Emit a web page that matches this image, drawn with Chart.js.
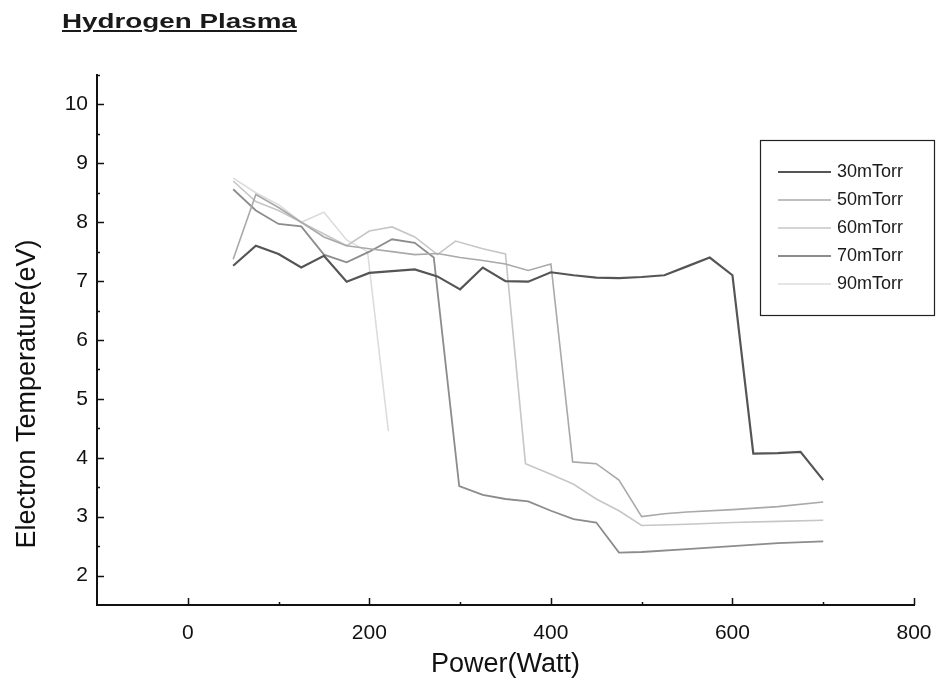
<!DOCTYPE html>
<html>
<head>
<meta charset="utf-8">
<title>Hydrogen Plasma</title>
<script src="https://cdn.jsdelivr.net/npm/chart.js@4.4.0/dist/chart.umd.min.js"></script>
<style>
  html, body { margin: 0; padding: 0; background: #fff; }
  #wrap { position: relative; width: 937px; height: 689px; }
  #chart { position: absolute; left: 0; top: 0; }
  #title {
    position: absolute; left: 62px; top: 10px;
    font: bold 20px "Liberation Sans", Arial, sans-serif;
    color: #1a1a1a; white-space: nowrap;
    text-decoration: underline; text-decoration-thickness: 2px; text-underline-offset: 2px;
    transform: scaleX(1.39); transform-origin: left top;
  }
</style>
</head>
<body>
<div id="wrap">
  <canvas id="chart" width="937" height="689"></canvas>
  <div id="title">Hydrogen Plasma</div>
</div>
<script>
var seriesLabels = ['30mTorr', '50mTorr', '60mTorr', '70mTorr', '90mTorr'];

var power30 = [50, 75, 100, 125, 150, 175, 200, 225, 250, 275, 300, 325, 350, 375, 400, 425, 450, 475, 500, 525, 550, 575, 600, 623, 650, 675, 700];
var temp30  = [7.26, 7.6, 7.46, 7.23, 7.43, 6.99, 7.14, 7.17, 7.2, 7.08, 6.86, 7.23, 7.0, 6.99, 7.15, 7.1, 7.06, 7.05, 7.07, 7.1, 7.25, 7.4, 7.1, 4.07, 4.08, 4.1, 3.62];

var power50 = [50, 75, 100, 125, 150, 175, 200, 225, 250, 275, 300, 325, 350, 375, 400, 424, 450, 475, 500, 525, 550, 600, 650, 700];
var temp50  = [7.37, 8.47, 8.25, 8.0, 7.75, 7.6, 7.55, 7.5, 7.45, 7.47, 7.4, 7.35, 7.29, 7.18, 7.29, 3.93, 3.9, 3.62, 3.0, 3.05, 3.08, 3.12, 3.17, 3.25];

var power60 = [50, 75, 100, 125, 150, 175, 200, 225, 250, 275, 295, 325, 350, 372, 400, 425, 450, 475, 500, 550, 600, 650, 700];
var temp60  = [8.7, 8.35, 8.2, 8.0, 7.8, 7.6, 7.85, 7.92, 7.75, 7.45, 7.68, 7.55, 7.46, 3.9, 3.72, 3.55, 3.3, 3.1, 2.85, 2.87, 2.9, 2.92, 2.94];

var power70 = [50, 75, 100, 125, 150, 175, 200, 225, 250, 271, 299, 325, 350, 375, 400, 425, 450, 475, 500, 550, 600, 650, 700];
var temp70  = [8.56, 8.2, 7.97, 7.93, 7.45, 7.32, 7.5, 7.71, 7.65, 7.4, 3.52, 3.37, 3.3, 3.26, 3.1, 2.96, 2.9, 2.39, 2.4, 2.45, 2.5, 2.55, 2.58];

var power90 = [50, 75, 100, 125, 150, 175, 198, 221];
var temp90  = [8.75, 8.5, 8.3, 8.0, 8.17, 7.7, 7.5, 4.45];

var xTicks = [0, 200, 400, 600, 800];
var yTicks = [2, 3, 4, 5, 6, 7, 8, 9, 10];

var lineColors = ['#555555', '#a9a9a9', '#c6c6c6', '#8c8c8c', '#dcdcdc'];
var lineWidths = [2.2, 1.6, 1.6, 1.8, 1.6];

function points(xs, ys) {
  return xs.map(function(x, i) { return { x: x, y: ys[i] }; });
}

var allPoints = [
  points(power30, temp30),
  points(power50, temp50),
  points(power60, temp60),
  points(power70, temp70),
  points(power90, temp90)
];

var FONT = '"Liberation Sans", Arial, sans-serif';

// small inward tick marks on both axes, majors plus halfway minors
var innerTicks = {
  id: 'innerTicks',
  afterDraw: function(chart) {
    var ctx = chart.ctx;
    var xs = chart.scales.x, ys = chart.scales.y;
    var left = chart.chartArea.left, bottom = chart.chartArea.bottom;
    ctx.save();
    ctx.strokeStyle = '#111';
    ctx.lineWidth = 1.5;
    ctx.beginPath();
    for (var v = 2; v <= 10.5; v += 0.5) {
      var py = Math.round(ys.getPixelForValue(v)) + 0.5;
      var len = (v % 1 === 0) ? 7 : 3;
      ctx.moveTo(left, py);
      ctx.lineTo(left + len, py);
    }
    for (var w = 0; w <= 800; w += 100) {
      var px = Math.round(xs.getPixelForValue(w)) + 0.5;
      var l = (w % 200 === 0) ? 7 : 3;
      ctx.moveTo(px, bottom);
      ctx.lineTo(px, bottom - l);
    }
    ctx.stroke();

    // y axis title, sits a bit below the middle of the axis
    ctx.fillStyle = '#111';
    ctx.font = '27px ' + FONT;
    ctx.textAlign = 'center';
    ctx.textBaseline = 'middle';
    ctx.translate(28, 394);
    ctx.rotate(-Math.PI / 2);
    ctx.fillText('Electron Temperature(eV)', 0, 0);
    ctx.restore();
  }
};

// boxed legend in the upper right corner
var boxLegend = {
  id: 'boxLegend',
  afterDraw: function(chart) {
    var ctx = chart.ctx;
    ctx.save();
    ctx.strokeStyle = '#222';
    ctx.lineWidth = 1.2;
    ctx.strokeRect(760.5, 140.5, 174, 175);
    ctx.font = '18px ' + FONT;
    ctx.textBaseline = 'middle';
    ctx.textAlign = 'left';
    chart.data.datasets.forEach(function(ds, i) {
      var y = 172 + i * 28;
      ctx.strokeStyle = ds.borderColor;
      ctx.lineWidth = ds.borderWidth;
      ctx.beginPath();
      ctx.moveTo(778, y);
      ctx.lineTo(831, y);
      ctx.stroke();
      ctx.fillStyle = '#1a1a1a';
      ctx.fillText(ds.label, 837, y);
    });
    ctx.restore();
  }
};

var datasets = seriesLabels.map(function(label, i) {
  return {
    label: label,
    data: allPoints[i],
    borderColor: lineColors[i],
    backgroundColor: lineColors[i],
    borderWidth: lineWidths[i],
    pointRadius: 0,
    tension: 0,
    fill: false
  };
});
// darkest line on top
datasets[0].order = -1;

Chart.defaults.font.family = FONT;
Chart.defaults.color = '#111';

new Chart(document.getElementById('chart'), {
  type: 'line',
  data: { datasets: datasets },
  options: {
    responsive: false,
    animation: false,
    layout: { padding: { left: 0, top: 75, right: 23, bottom: 0 } },
    plugins: {
      legend: { display: false },
      tooltip: { enabled: false }
    },
    scales: {
      x: {
        type: 'linear',
        min: -100,
        max: 800,
        afterBuildTicks: function(scale) {
          scale.ticks = xTicks.map(function(v) { return { value: v }; });
        },
        afterFit: function(scale) {
          scale.height = 84;
          scale.paddingLeft = 0;
          scale.paddingRight = 0;
        },
        grid: { display: true, drawOnChartArea: false, drawTicks: false },
        border: { display: true, color: '#111', width: 2 },
        ticks: { font: { size: 21 }, padding: 16, maxRotation: 0 },
        title: {
          display: true,
          text: 'Power(Watt)',
          font: { size: 27 },
          padding: { top: 0, bottom: 8 }
        }
      },
      y: {
        type: 'linear',
        min: 1.5,
        max: 10.5,
        afterBuildTicks: function(scale) {
          scale.ticks = yTicks.map(function(v) { return { value: v }; });
        },
        afterFit: function(scale) { scale.width = 97; },
        grid: { display: true, drawOnChartArea: false, drawTicks: false },
        border: { display: true, color: '#111', width: 2 },
        ticks: { font: { size: 21 }, padding: 9 }
      }
    }
  },
  plugins: [innerTicks, boxLegend]
});
</script>
</body>
</html>
